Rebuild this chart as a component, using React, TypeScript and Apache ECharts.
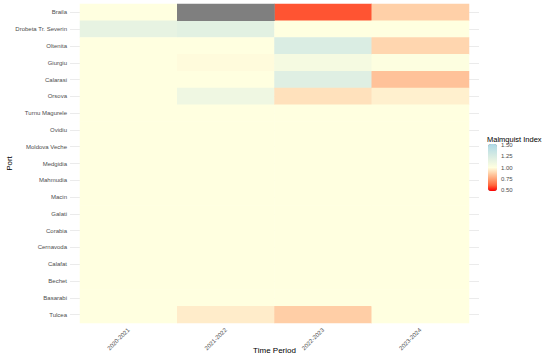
import React, { useEffect, useRef } from "react";
import * as echarts from "echarts";

const ports = [
  "Braila", "Drobeta Tr. Severin", "Oltenita", "Giurgiu", "Calarasi", "Orsova",
  "Turnu Magurele", "Ovidiu", "Moldova Veche", "Medgidia", "Mahmudia", "Macin",
  "Galati", "Corabia", "Cernavoda", "Calafat", "Bechet", "Basarabi", "Tulcea",
];
const periods = ["2020-2021", "2021-2022", "2022-2023", "2023-2024"];

const p2020_2021 = [1.0, 1.15, 1.0, 1.0, 1.0, 1.0, 1.0, 1.0, 1.0, 1.0, 1.0, 1.0, 1.0, 1.0, 1.0, 1.0, 1.0, 1.0, 1.0];
const p2021_2022 = [null, 1.18, 1.0, 0.99, 1.0, 1.1, 1.0, 1.0, 1.0, 1.0, 1.0, 1.0, 1.0, 1.0, 1.0, 1.0, 1.0, 1.0, 0.95];
const p2022_2023 = [0.6, 1.0, 1.23, 1.06, 1.2, 0.92, 1.0, 1.0, 1.0, 1.0, 1.0, 1.0, 1.0, 1.0, 1.0, 1.0, 1.0, 1.0, 0.87];
const p2023_2024 = [0.875, 1.0, 0.89, 1.01, 0.84, 0.96, 1.0, 1.0, 1.0, 1.0, 1.0, 1.0, 1.0, 1.0, 1.0, 1.0, 1.0, 1.0, 1.0];
const columns = [p2020_2021, p2021_2022, p2022_2023, p2023_2024];

const gradient = ["#FF0000", "#FF693E", "#FF9F72", "#FFD0A8", "#FFFFE0", "#EBF5E2", "#D7EBE3", "#C2E2E5", "#ADD8E6"];

export default function App() {
  const ref = useRef<HTMLDivElement>(null);
  useEffect(() => {
    if (!ref.current) return;
    document.body.style.margin = "0";
    const chart = echarts.init(ref.current, undefined, { renderer: "svg" });
    const values: any[] = [];
    const missing: any[] = [];
    columns.forEach((col, xi) => {
      col.forEach((v, yi) => {
        if (v === null) missing.push([xi, yi, 0]);
        else values.push([xi, yi, v]);
      });
    });
    const font = "Liberation Sans, Arial, sans-serif";
    const option: any = {
      animation: false,
      backgroundColor: "#ffffff",
      textStyle: { fontFamily: font },
      grid: [
        { left: 80, right: 81, top: 4, bottom: 37, outerBoundsMode: "none", containLabel: false },
        { left: 70, right: 71, top: 12.4, bottom: 45.4, outerBoundsMode: "none", containLabel: false },
        { left: 488, width: 9, top: 145, height: 45, outerBoundsMode: "none", containLabel: false },
      ],
      xAxis: [
        {
          type: "category", gridIndex: 0, data: periods,
          axisLine: { show: false }, axisTick: { show: false }, splitLine: { show: false },
          axisLabel: { rotate: 45, fontSize: 6, color: "#4d4d4d", margin: 6, fontFamily: font },
          name: "Time Period", nameLocation: "middle", nameGap: 23, nameMoveOverlap: false,
          nameTextStyle: { fontSize: 8, color: "#000", fontFamily: font },
        },
        { type: "value", gridIndex: 1, show: false, min: 0, max: 1 },
        { type: "value", gridIndex: 2, show: false, min: 0, max: 1 },
      ],
      yAxis: [
        {
          type: "category", gridIndex: 0, data: ports, inverse: true,
          axisLine: { show: false }, axisTick: { show: false }, splitLine: { show: false },
          axisLabel: { fontSize: 6, color: "#4d4d4d", margin: 13, fontFamily: font },
          name: "Port", nameLocation: "middle", nameGap: 67, nameMoveOverlap: false,
          nameTextStyle: { fontSize: 8, color: "#000", fontFamily: font },
        },
        {
          type: "value", gridIndex: 1, min: 0, max: ports.length - 1, interval: 1,
          axisLine: { show: false }, axisTick: { show: false }, axisLabel: { show: false },
          splitLine: { show: true, lineStyle: { color: "#ebebeb", width: 1 } },
        },
        {
          type: "value", gridIndex: 2, min: 0.5, max: 1.5, interval: 0.25, position: "right",
          axisLine: { show: false },
          axisTick: { show: true, inside: true, length: 2, lineStyle: { color: "#ffffff" } },
          splitLine: { show: false },
          axisLabel: {
            fontSize: 6, color: "#4d4d4d", margin: 4, fontFamily: font,
            formatter: (v: number) => v.toFixed(2),
          },
          z: 10,
        },
      ],
      visualMap: [
        {
          type: "continuous", seriesIndex: 0, min: 0.5, max: 1.5,
          calculable: false, orient: "vertical", left: 488, top: 144,
          itemWidth: 9, itemHeight: 47, padding: 0, text: null, showLabel: false,
          inRange: { color: gradient }, outOfRange: { color: "#7f7f7f" },
        },
        {
          type: "continuous", seriesIndex: 1, min: 0, max: 1, show: false,
          inRange: { color: ["#7f7f7f", "#7f7f7f"] },
        },
      ],
      graphic: [
        {
          type: "text", x: 487, y: 135,
          style: { text: "Malmquist Index", fontSize: 7.5, fill: "#000", fontFamily: font },
        },
      ],
      series: [
        {
          type: "heatmap", xAxisIndex: 0, yAxisIndex: 0, data: values,
          emphasis: { disabled: true }, itemStyle: { borderWidth: 0 },
        },
        {
          type: "heatmap", xAxisIndex: 0, yAxisIndex: 0, data: missing,
          emphasis: { disabled: true }, itemStyle: { borderWidth: 0 },
        },
      ],
    };
    chart.setOption(option);
    return () => chart.dispose();
  }, []);
  return <div ref={ref} style={{ width: 550, height: 360, position: "absolute", left: 0, top: 0 }} />;
}
